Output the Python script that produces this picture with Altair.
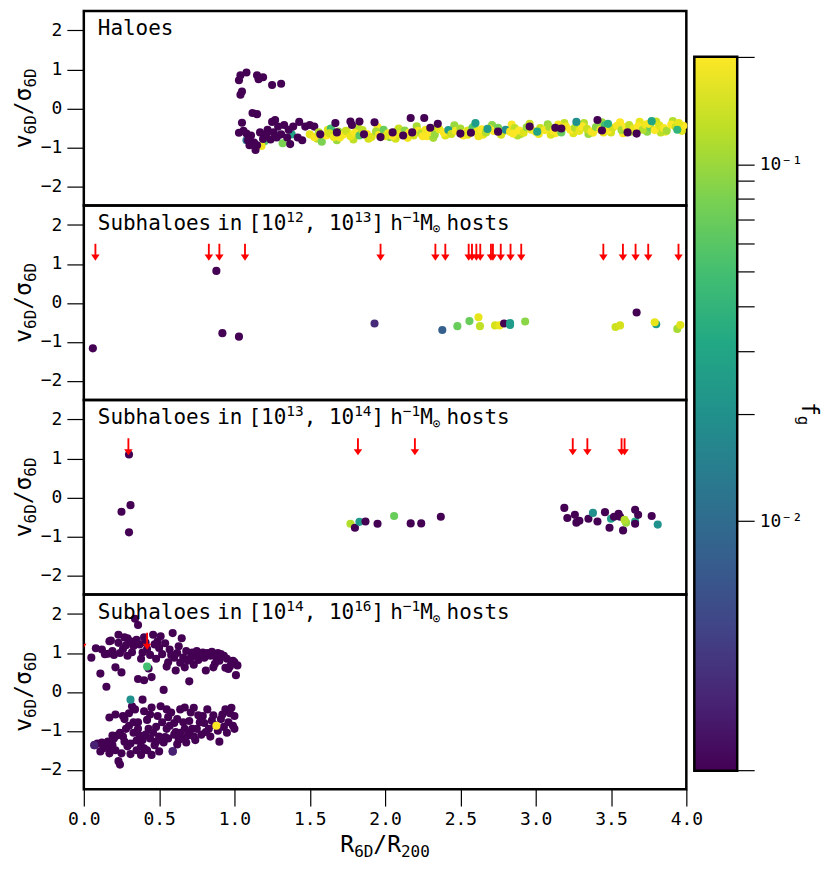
import math
import altair as alt
import pandas as pd

# ---------------- data ----------------
FG_MIN = 0.002
ARROW_Y = 1.3

# Panel 1 - Haloes: colored points drawn first (x < 1.5)
halo_early_x = [1.08, 1.29, 1.20, 1.18, 1.32, 1.38]
halo_early_y = [-0.82, -0.70, -0.85, -0.97, -0.90, -0.67]
halo_early_f = [0.012, 0.02, 0.06, 0.18, 0.08, 0.03]

# Panel 1 - dark (f_g below range) points near x ~ 1-1.5
halo_dark1_x = [1.03, 1.04, 1.08, 1.15, 1.16, 1.19, 1.25, 1.31, 1.04, 1.05, 1.12, 1.15,
                1.03, 1.05, 1.08, 1.09, 1.14, 1.15, 1.17, 1.19, 1.22, 1.25, 1.27, 1.28,
                1.29, 1.31, 1.33, 1.35, 1.36, 1.37, 1.39, 1.42, 1.43, 1.45, 1.47, 1.50,
                1.53, 1.11, 1.13, 1.21, 1.24, 1.10, 1.06, 1.26]
halo_dark1_y = [0.72, 0.85, 0.92, 0.85, 0.75, 0.80, 0.60, 0.63, 0.35, 0.43, -0.12, -0.15,
                -0.63, -0.37, -0.65, -0.82, -1.07, -0.95, -0.62, -0.79, -0.55, -0.35, -0.30, -0.75,
                -0.47, -0.67, -0.43, -0.75, -0.55, -0.92, -0.47, -0.75, -0.35, -0.82, -0.47, -0.43,
                -0.47, -0.70, -0.88, -0.68, -0.80, -0.95, -0.58, -0.62]

# Panel 1 - colored band (first layer, wider spread)
halo_band2_x = [1.55, 1.62, 1.68, 1.75, 1.82, 1.89, 1.95, 2.03, 2.09, 2.15, 2.21, 2.28, 2.34,
                2.40, 2.46, 2.52, 2.59, 2.65, 2.71, 2.77, 2.84, 2.90, 2.96, 3.02, 3.08, 3.13,
                3.19, 3.25, 3.32, 3.38, 3.44, 3.50, 3.56, 3.63, 3.69, 3.74, 3.80, 3.86, 3.91,
                3.97, 1.64, 1.79, 2.07, 2.32, 2.62, 2.88, 3.10, 3.35, 3.58, 3.83]
halo_band2_y = [-0.78, -0.55, -0.82, -0.62, -0.50, -0.78, -0.48, -0.74, -0.52, -0.76, -0.46, -0.72,
                -0.50, -0.70, -0.44, -0.70, -0.46, -0.68, -0.43, -0.68, -0.42, -0.66, -0.40, -0.66,
                -0.41, -0.64, -0.38, -0.64, -0.38, -0.63, -0.36, -0.62, -0.36, -0.60, -0.35, -0.60,
                -0.34, -0.60, -0.33, -0.58, -0.52, -0.80, -0.78, -0.76, -0.72, -0.70, -0.68, -0.66,
                -0.64, -0.62]
halo_band2_f = [0.13, 0.16, 0.1, 0.19, 0.12, 0.15, 0.2, 0.09, 0.14, 0.18, 0.11, 0.2, 0.13, 0.16,
                0.1, 0.2, 0.12, 0.17, 0.09, 0.15, 0.2, 0.11, 0.14, 0.18, 0.1, 0.2, 0.13, 0.16,
                0.12, 0.19, 0.1, 0.15, 0.2, 0.12, 0.17, 0.09, 0.14, 0.2, 0.12, 0.16, 0.05, 0.13,
                0.15, 0.11, 0.18, 0.12, 0.16, 0.1, 0.2, 0.13]

# Panel 1 - colored band (main)
halo_band_x = [1.50, 1.53, 1.56, 1.58, 1.61, 1.63, 1.66, 1.69, 1.72, 1.74, 1.77, 1.80, 1.83, 1.85,
               1.88, 1.91, 1.94, 1.96, 1.99, 2.02, 2.05, 2.08, 2.10, 2.13, 2.16, 2.19, 2.22, 2.24,
               2.27, 2.30, 2.33, 2.36, 2.39, 2.42, 2.44, 2.47, 2.50, 2.53, 2.55, 2.58, 2.61, 2.64,
               2.67, 2.69, 2.72, 2.75, 2.78, 2.80, 2.83, 2.86, 2.89, 2.92, 2.94, 2.97, 3.00, 3.03,
               3.06, 3.09, 3.12, 3.14, 3.17, 3.20, 3.23, 3.26, 3.29, 3.31, 3.34, 3.37, 3.40, 3.43,
               3.46, 3.48, 3.51, 3.54, 3.57, 3.60, 3.62, 3.65, 3.68, 3.71, 3.73, 3.76, 3.79, 3.82,
               3.85, 3.87, 3.90, 3.93, 3.96, 3.98, 1.70, 2.00, 2.25, 2.55, 2.85, 3.15, 3.45, 3.75,
               3.95, 2.60, 3.27, 3.77, 3.48, 2.68, 3.01, 3.94]
halo_band_y = [-0.67, -0.74, -0.62, -0.86, -0.70, -0.64, -0.74, -0.60, -0.68, -0.58, -0.72, -0.63,
               -0.70, -0.56, -0.66, -0.74, -0.60, -0.68, -0.55, -0.64, -0.71, -0.59, -0.66, -0.57,
               -0.63, -0.70, -0.58, -0.65, -0.55, -0.61, -0.68, -0.54, -0.62, -0.56, -0.66, -0.58,
               -0.52, -0.63, -0.57, -0.50, -0.60, -0.54, -0.62, -0.52, -0.58, -0.50, -0.61, -0.55,
               -0.60, -0.51, -0.57, -0.63, -0.49, -0.55, -0.60, -0.51, -0.56, -0.48, -0.58, -0.52,
               -0.62, -0.47, -0.55, -0.50, -0.58, -0.46, -0.53, -0.60, -0.48, -0.55, -0.44, -0.57,
               -0.50, -0.45, -0.56, -0.48, -0.43, -0.52, -0.46, -0.55, -0.42, -0.49, -0.56, -0.44,
               -0.51, -0.58, -0.42, -0.48, -0.54, -0.45, -0.75, -0.72, -0.72, -0.68, -0.65, -0.42,
               -0.62, -0.40, -0.38, -0.38, -0.35, -0.33, -0.40, -0.53, -0.60, -0.55]
halo_band_f = [0.17, 0.19, 0.12, 0.08, 0.2, 0.15, 0.18, 0.1, 0.2, 0.14, 0.17, 0.19, 0.06, 0.13,
               0.2, 0.16, 0.11, 0.19, 0.07, 0.18, 0.2, 0.13, 0.17, 0.09, 0.2, 0.15, 0.19, 0.12,
               0.18, 0.2, 0.1, 0.17, 0.2, 0.025, 0.14, 0.19, 0.11, 0.2, 0.16, 0.06, 0.18, 0.2,
               0.12, 0.17, 0.2, 0.08, 0.15, 0.019, 0.19, 0.13, 0.2, 0.16, 0.1, 0.18, 0.2, 0.14,
               0.19, 0.11, 0.2, 0.16, 0.07, 0.18, 0.2, 0.12, 0.17, 0.2, 0.14, 0.19, 0.09, 0.18,
               0.05, 0.2, 0.15, 0.19, 0.11, 0.2, 0.13, 0.17, 0.2, 0.12, 0.18, 0.07, 0.2, 0.16,
               0.19, 0.11, 0.2, 0.14, 0.18, 0.2, 0.19, 0.16, 0.2, 0.17, 0.2, 0.19, 0.18, 0.19,
               0.17, 0.025, 0.02, 0.03, 0.035, 0.025, 0.03, 0.04]

# Panel 1 - dark points sitting in the band
halo_dark2_x = [1.57, 1.67, 1.68, 1.77, 1.78, 1.83, 1.86, 1.93, 1.97, 2.05, 2.17, 2.26, 2.18,
                2.35, 2.50, 2.57, 2.75, 2.96, 3.13, 3.17, 3.41, 3.44, 3.61, 3.67, 2.12, 2.30]
halo_dark2_y = [-0.67, -0.38, -0.62, -0.34, -0.43, -0.34, -0.67, -0.36, -0.74, -0.62, -0.25, -0.25,
                -0.62, -0.40, -0.65, -0.63, -0.60, -0.47, -0.50, -0.52, -0.30, -0.57, -0.62, -0.65,
                -0.70, -0.50]

# Panel 2 - Subhaloes in [1e12, 1e13] hosts
sub12_x = [0.06, 0.88, 0.92, 1.03, 1.93, 2.38, 2.48, 2.56, 2.62, 2.63, 2.73, 2.76, 2.79, 2.83,
           2.83, 2.93, 3.53, 3.56, 3.67, 3.80, 3.79, 3.94, 3.96]
sub12_y = [-1.17, 0.82, -0.78, -0.87, -0.53, -0.70, -0.60, -0.47, -0.37, -0.60, -0.58, -0.58,
           -0.53, -0.57, -0.52, -0.48, -0.62, -0.58, -0.25, -0.55, -0.50, -0.67, -0.57]
sub12_f = [0.002, 0.002, 0.002, 0.002, 0.0035, 0.008, 0.07, 0.07, 0.17, 0.13, 0.15, 0.17,
           0.002, 0.025, 0.025, 0.09, 0.14, 0.15, 0.002, 0.025, 0.17, 0.11, 0.16]
sub12_arrows = [0.077, 0.83, 0.90, 1.07, 1.97, 2.334, 2.40, 2.555, 2.577, 2.606, 2.632, 2.703,
                2.716, 2.768, 2.833, 2.904, 3.449, 3.579, 3.663, 3.747, 3.948]

# Panel 3 - Subhaloes in [1e13, 1e14] hosts
sub13_x = [0.30, 0.25, 0.31, 0.30, 1.77, 1.80, 1.83, 1.87, 1.95, 2.06, 2.17, 2.24, 2.37,
           3.19, 3.21, 3.26, 3.27, 3.29, 3.35, 3.38, 3.41, 3.46, 3.49, 3.50, 3.52, 3.55, 3.56,
           3.58, 3.60, 3.59, 3.66, 3.66, 3.68, 3.66, 3.77, 3.81]
sub13_y = [1.10, -0.37, -0.20, -0.90, -0.68, -0.78, -0.63, -0.62, -0.68, -0.48, -0.67, -0.67, -0.50,
           -0.27, -0.53, -0.45, -0.65, -0.60, -0.55, -0.40, -0.62, -0.38, -0.78, -0.55, -0.50, -0.42,
           -0.50, -0.85, -0.65, -0.58, -0.62, -0.32, -0.45, -0.68, -0.48, -0.70]
sub13_f = [0.002, 0.002, 0.002, 0.002, 0.12, 0.002, 0.025, 0.002, 0.002, 0.07, 0.002, 0.002, 0.002,
           0.002, 0.002, 0.002, 0.002, 0.002, 0.002, 0.02, 0.002, 0.002, 0.002, 0.025, 0.002, 0.002,
           0.002, 0.002, 0.1, 0.12, 0.03, 0.002, 0.002, 0.002, 0.002, 0.02]
sub13_arrows = [0.296, 1.82, 2.198, 3.246, 3.343, 3.57, 3.59]

# Panel 4 - Subhaloes in [1e14, 1e16] hosts (all dark unless listed separately)
sub14_up_x = [0.34, 0.36, 0.23, 0.23, 0.17, 0.12, 0.05, 0.14, 0.19, 0.21, 0.25, 0.11, 0.15, 0.29,
              0.31, 0.33, 0.35, 0.37, 0.39, 0.40, 0.45, 0.46, 0.49, 0.50, 0.52, 0.56, 0.57, 0.59,
              0.60, 0.61, 0.63, 0.65, 0.66, 0.67, 0.70, 0.71, 0.72, 0.74, 0.77, 0.79, 0.81, 0.84,
              0.86, 0.88, 0.90, 0.93, 0.96, 0.98, 1.00, 1.02, 1.01, 0.53, 0.29, 0.26, 0.28, 0.32,
              0.38, 0.42, 0.44, 0.47, 0.48, 0.54, 0.55, 0.58, 0.62, 0.64, 0.68, 0.69, 0.73, 0.75,
              0.76, 0.80, 0.82, 0.85, 0.87, 0.89, 0.91, 0.94, 0.95, 0.97, 0.99, 0.43, 0.36, 0.20,
              0.24, 0.18, 0.27, 0.41, 0.51, 0.16, 0.08, 0.40]
sub14_up_y = [1.88, 1.72, 1.47, 1.26, 1.30, 1.09, 0.88, 0.97, 1.05, 0.63, 0.50, 0.47, 0.13, 1.38,
              1.30, 1.18, 1.34, 1.22, 1.01, 0.30, 0.38, 1.47, 1.30, 1.13, 0.97, 0.76, 1.09, 1.51,
              0.88, 0.55, 1.17, 1.38, 0.88, 0.63, 0.27, 0.88, 1.01, 0.93, 0.97, 1.01, 0.55, 0.93,
              0.63, 0.88, 0.80, 0.93, 0.59, 0.72, 0.76, 0.68, 0.43, 0.05, 0.93, 1.10, 1.20, 1.02,
              0.85, 1.10, 0.95, 1.22, 0.85, 1.25, 0.65, 0.95, 1.00, 0.75, 1.05, 0.80, 0.70, 1.05,
              0.82, 0.88, 1.00, 1.03, 0.72, 1.00, 0.97, 0.62, 0.85, 0.65, 0.80, 0.60, 0.33, 0.95,
              1.00, 1.32, 1.40, 1.27, 1.43, 0.98, 1.12, 1.40]
sub14_lo_x = [0.07, 0.09, 0.11, 0.16, 0.17, 0.19, 0.17, 0.21, 0.22, 0.23, 0.24, 0.25, 0.26, 0.27,
              0.30, 0.32, 0.34, 0.36, 0.37, 0.38, 0.39, 0.40, 0.43, 0.44, 0.45, 0.47, 0.49, 0.51,
              0.52, 0.54, 0.57, 0.58, 0.59, 0.61, 0.63, 0.64, 0.66, 0.69, 0.71, 0.72, 0.74, 0.77,
              0.79, 0.81, 0.85, 0.90, 0.92, 0.96, 0.99, 0.98, 1.00, 0.94, 0.73, 0.82, 0.44, 0.33,
              0.19, 0.31, 0.39, 0.50, 0.65, 0.75, 0.13, 0.14, 0.20, 0.21, 0.24, 0.26, 0.28, 0.29,
              0.33, 0.35, 0.36, 0.38, 0.41, 0.42, 0.42, 0.46, 0.48, 0.48, 0.50, 0.53, 0.55, 0.56,
              0.56, 0.60, 0.60, 0.62, 0.62, 0.64, 0.67, 0.68, 0.70, 0.70, 0.73, 0.76, 0.78, 0.80,
              0.83, 0.84, 0.86, 0.87, 0.89, 0.91, 0.93, 0.95, 0.97, 1.00, 0.27, 0.30, 0.45, 0.55,
              0.67, 0.12, 0.18, 0.31, 0.40, 0.35]
sub14_lo_y = [-1.37, -1.33, -1.53, -1.28, -1.58, -1.37, -0.66, -0.58, -1.12, -1.78, -1.87, -1.58,
              -0.62, -1.28, -0.87, -0.37, -0.45, -0.78, -1.12, -1.62, -0.20, -0.50, -0.95, -1.20,
              -1.62, -1.37, -0.62, -0.37, -0.78, -1.16, -0.87, -0.53, -1.53, -1.03, -1.24, -0.45,
              -0.78, -1.12, -0.53, -0.95, -1.24, -0.78, -0.62, -1.03, -0.74, -1.28, -0.58, -0.78,
              -0.87, -0.41, -0.62, -0.45, -0.41, -0.45, -0.58, -0.78, -1.12, -1.33, -1.24, -1.53,
              -1.20, -0.95, -1.45, -1.40, -1.20, -1.50, -1.05, -1.15, -0.95, -1.40, -1.05, -1.25,
              -0.95, -1.40, -1.10, -0.72, -1.50, -1.05, -1.28, -0.90, -1.15, -1.30, -0.95, -1.20,
              -0.65, -0.80, -1.10, -0.70, -1.35, -1.05, -0.95, -1.30, -0.75, -1.05, -1.15, -0.60,
              -1.10, -0.80, -0.95, -1.15, -0.60, -0.85, -1.00, -0.70, -0.90, -1.05, -0.55, -0.95,
              -0.70, -0.55, -0.40, -0.45, -0.40, -1.30, -1.45, -1.60, -1.45, -1.50]
sub14_col_x = [0.07, 0.59, 0.42, 0.31, 0.88]
sub14_col_y = [-1.37, -1.53, 0.65, -0.20, -0.87]
sub14_col_f = [0.003, 0.003, 0.05, 0.02, 0.2]
sub14_arrows = [-0.01, 0.42]

# colour bar
CB_LOW, CB_HIGH = 0.002, 0.2
CB_TICKS = [0.002, 0.01, 0.02, 0.03, 0.04, 0.05, 0.06, 0.07, 0.08, 0.09, 0.1, 0.2]
VIRIDIS = ["#440154", "#482475", "#414487", "#355f8d", "#2a788e", "#21918c",
           "#22a884", "#44bf70", "#7ad151", "#bddf26", "#fde725"]

# ---------------- layout ----------------
FONT = "DejaVu Sans Mono"
W, H = 604, 195
CBW = 43
CB_GAP = 8
TICK = 17
LBL = 18
MAIN_AX, SUB_AX = 23, 16
TITLE_FS, TITLE_SUP = 21, 14.5
DUMMY = pd.DataFrame({"k": [0]})


def adv(t, fs):
    return len(t) * 0.602 * fs


def txt(t, x, y, fs, angle=0):
    return alt.Chart(DUMMY).mark_text(
        text=t, font=FONT, fontSize=fs, align="left", baseline="alphabetic",
        angle=angle, color="black"
    ).encode(x=alt.value(x), y=alt.value(y))


XSCALE = alt.Scale(domain=[0, 4], nice=False, zero=False)
YSCALE = alt.Scale(domain=[-2.5, 2.5], nice=False, zero=False)
CSCALE = alt.Scale(type="log", domain=[CB_LOW, CB_HIGH], scheme="viridis", clamp=True)

XAXIS = alt.Axis(values=[0, 0.5, 1, 1.5, 2, 2.5, 3, 3.5, 4], format=".1f", tickSize=TICK,
                 labelPadding=4, title=None, grid=False, domain=False, labelFlush=False)
YAXIS = alt.Axis(values=[-2, -1, 0, 1, 2], tickSize=TICK, labelPadding=5, title=None,
                 grid=False, domain=False, labelFlush=False, orient="left",
                 labelExpr="replace(datum.label, '-', '\u2212')")

ARROW_PATH = "M-0.11,-1L0.11,-1L0.11,0.28L0.5,0.28L0,1L-0.5,0.28L-0.11,0.28Z"


def ylabel_marks():
    segs = [("v", MAIN_AX), ("6D", SUB_AX), ("/", MAIN_AX), ("\u03c3", MAIN_AX), ("6D", SUB_AX)]
    total = sum(adv(s, f) for s, f in segs)
    y = H / 2 + total / 2
    out = []
    for s, f in segs:
        xb = -53 if f == MAIN_AX else -48
        out.append(txt(s, xb, y, f, angle=270))
        y -= adv(s, f)
    return out


def title_marks(a=None, b=None):
    base = 24
    if a is None:
        return [txt("Haloes", 14, base, TITLE_FS)]
    segs = [("Subhaloes", "m"), (6, None), ("in", "m"), (6, None), ("[10", "m"), (a, "sup"),
            (", 10", "m"), (b, "sup"), ("]", "m"), (6, None), ("h", "m"), ("\u22121", "sup"),
            ("M", "m"), ("\u2299", "sub"), (6, None), ("hosts", "m")]
    x = 14
    out = []
    for s, kind in segs:
        if kind is None:
            x += s
            continue
        if kind == "m":
            out.append(txt(s, x, base, TITLE_FS))
            x += adv(s, TITLE_FS)
        elif kind == "sup":
            out.append(txt(s, x, base - 8, TITLE_SUP))
            x += adv(s, TITLE_SUP)
        else:
            out.append(txt(s, x, base + 4, 13))
            x += adv(s, 13)
    return out


def xlabel_marks():
    segs = [("R", MAIN_AX), ("6D", SUB_AX), ("/", MAIN_AX), ("R", MAIN_AX), ("200", SUB_AX)]
    total = sum(adv(s, f) for s, f in segs)
    x = W / 2 - total / 2
    out = []
    for s, f in segs:
        yb = H + 63 if f == MAIN_AX else H + 68
        out.append(txt(s, x, yb, f))
        x += adv(s, f)
    return out


def colorbar_layers():
    """Colour bar drawn inside the first panel, with its own log y scale whose pixel
    range spans the whole stack of panels."""
    CBH = 4 * H
    cb_top = 0.05875 * CBH
    cb_bot = 0.97625 * CBH
    grad = alt.LinearGradient(
        gradient="linear", x1=0, x2=0, y1=1, y2=0,
        stops=[alt.GradientStop(color=c, offset=i / (len(VIRIDIS) - 1))
               for i, c in enumerate(VIRIDIS)])
    cb_df = pd.DataFrame({"lo": [CB_LOW], "hi": [CB_HIGH]})
    rect = alt.Chart(cb_df).mark_rect(fill=grad, stroke="black", strokeWidth=2.5).encode(
        y=alt.Y("lo:Q",
                scale=alt.Scale(type="log", domain=[CB_LOW, CB_HIGH], range=[cb_bot, cb_top],
                                nice=False),
                axis=alt.Axis(orient="right", offset=CB_GAP + CBW, values=CB_TICKS,
                              tickSize=TICK, labelPadding=5, title=None, grid=False,
                              domain=False, labelOverlap=False, labelFlush=False,
                              labelExpr="abs(datum.value - 0.01) < 1e-9 ? '10\u207b\u00b2' : "
                                        "(abs(datum.value - 0.1) < 1e-9 ? '10\u207b\u00b9' : '')")),
        y2="hi:Q",
        x=alt.value(W + CB_GAP), x2=alt.value(W + CB_GAP + CBW))
    cb_center = (cb_top + cb_bot) / 2
    fg_len = adv("f", MAIN_AX) + adv("g", SUB_AX)
    x0 = W + CB_GAP
    title = [txt("f", x0 + 108, cb_center - fg_len / 2, MAIN_AX, angle=90),
             txt("g", x0 + 104, cb_center - fg_len / 2 + adv("f", MAIN_AX), SUB_AX, angle=90)]
    return rect, title


def panel(xs, ys, fs, arrows, tmarks, bottom, cbar=False):
    df = pd.DataFrame({"x": xs, "y": ys, "f": fs})
    xenc = alt.X("x:Q", scale=XSCALE, axis=XAXIS if bottom else None)
    yenc = alt.Y("y:Q", scale=YSCALE, axis=YAXIS)
    pts = alt.Chart(df).mark_circle(size=66, opacity=1).encode(
        x=xenc, y=yenc, color=alt.Color("f:Q", scale=CSCALE, legend=None))
    layers = [pts]
    if arrows:
        adf = pd.DataFrame({"x": arrows, "y": [ARROW_Y] * len(arrows)})
        layers.append(alt.Chart(adf).mark_point(
            shape=ARROW_PATH, filled=True, color="red", size=289, opacity=1, clip=True
        ).encode(x=xenc, y=yenc))
    layers += tmarks + ylabel_marks()
    if bottom:
        layers += xlabel_marks()
    if cbar:
        rect, title = colorbar_layers()
        main = alt.layer(*layers)
        return alt.layer(main, rect, *title).resolve_scale(y="independent").properties(
            width=W, height=H)
    return alt.layer(*layers).properties(width=W, height=H)


p1_x = halo_early_x + halo_dark1_x + halo_band2_x + halo_band_x + halo_dark2_x
p1_y = halo_early_y + halo_dark1_y + halo_band2_y + halo_band_y + halo_dark2_y
p1_f = (halo_early_f + [FG_MIN] * len(halo_dark1_x) + halo_band2_f + halo_band_f
        + [FG_MIN] * len(halo_dark2_x))

p4_x = sub14_up_x + sub14_lo_x + sub14_col_x
p4_y = sub14_up_y + sub14_lo_y + sub14_col_y
p4_f = [FG_MIN] * (len(sub14_up_x) + len(sub14_lo_x)) + sub14_col_f

panels = [
    panel(p1_x, p1_y, p1_f, [], title_marks(), False, cbar=True),
    panel(sub12_x, sub12_y, sub12_f, sub12_arrows, title_marks("12", "13"), False),
    panel(sub13_x, sub13_y, sub13_f, sub13_arrows, title_marks("13", "14"), False),
    panel(p4_x, p4_y, p4_f, sub14_arrows, title_marks("14", "16"), True),
]

chart = alt.vconcat(*panels, spacing=0, bounds="flush").resolve_scale(
    x="independent", y="independent", color="shared"
).properties(
    padding={"left": 3, "top": 0, "right": 0, "bottom": 0}
).configure_view(
    stroke="black", strokeWidth=2.5
).configure_axis(
    labelFont=FONT, labelFontSize=LBL, labelColor="black", tickColor="black", tickWidth=1.2
)

chart.save("out.html", embed_options={"renderer": "svg", "actions": False})
